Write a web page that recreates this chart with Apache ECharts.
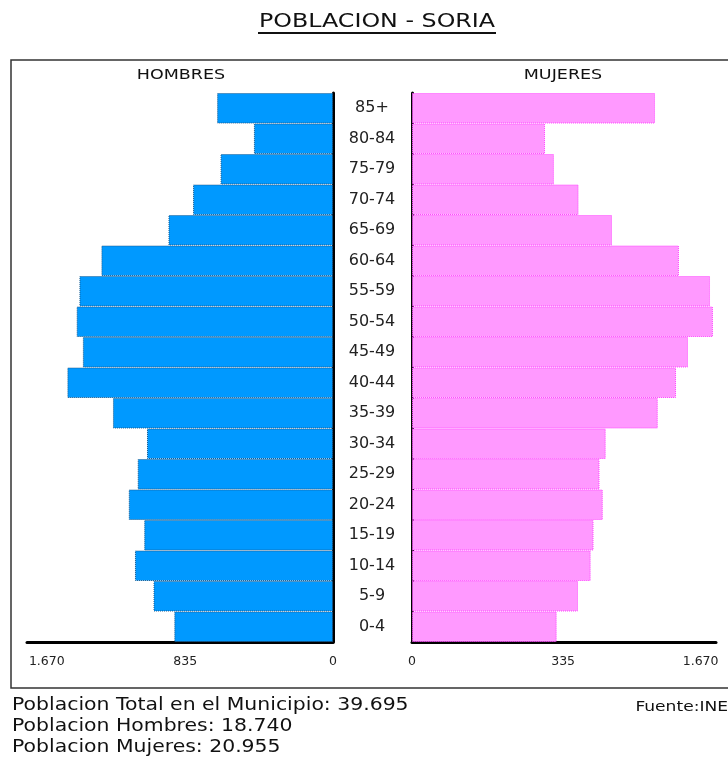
<!DOCTYPE html>
<html>
<head>
<meta charset="utf-8">
<title>POBLACION - SORIA</title>
<script src="https://cdn.jsdelivr.net/npm/echarts@6/dist/echarts.min.js"></script>
<style>
  html, body { margin: 0; padding: 0; background: #fff; }
  #chart { width: 728px; height: 758px; }
</style>
</head>
<body>
<div id="chart"></div>
<script>
  // grupos de edad, de abajo hacia arriba
  const ageGroups = ["0-4", "5-9", "10-14", "15-19", "20-24", "25-29", "30-34", "35-39", "40-44",
                     "45-49", "50-54", "55-59", "60-64", "65-69", "70-74", "75-79", "80-84", "85+"];
  const hombres = [923, 1044, 1152, 1098, 1188, 1136, 1082, 1280, 1545,
                   1455, 1491, 1475, 1347, 957, 814, 654, 460, 674];
  const mujeres = [847, 972, 1046, 1063, 1117, 1098, 1134, 1439, 1546,
                   1616, 1762, 1745, 1563, 1171, 975, 831, 779, 1423];
  // marcas del eje (posicion y texto tal cual aparecen)
  const leftTickVals = [0, 860, 1665];
  const leftTickLabels = ["0", "835", "1.670"];
  const rightTickVals = [0, 885, 1690];
  const rightTickLabels = ["0", "335", "1.670"];
  const axisMax = 1780;
  const footLines = ["Poblacion Total en el Municipio: 39.695", "Poblacion Hombres: 18.740", "Poblacion Mujeres: 20.955"];

  const font = "Verdana, 'DejaVu Sans', sans-serif";
  const myChart = echarts.init(document.getElementById("chart"));

  const xAxisBase = (vals, labels, inverse) => ({
    type: "value",
    min: 0,
    max: axisMax,
    inverse: inverse,
    axisLine: { show: true, onZero: false, lineStyle: { color: "#000", width: 3 } },
    axisTick: { show: false },
    splitLine: { show: false },
    axisLabel: {
      customValues: vals,
      formatter: (v) => labels[vals.indexOf(v)],
      margin: 13,
      fontFamily: font,
      fontSize: 12.5,
      color: "#222",
      hideOverlap: false,
      showMinLabel: true,
      showMaxLabel: true
    }
  });

  const yAxisBase = (pos, showLabel) => ({
    type: "category",
    data: ageGroups,
    position: pos,
    axisLine: { show: true, lineStyle: { color: "#000", width: 3 } },
    axisTick: { show: false },
    splitLine: { show: false },
    axisLabel: {
      show: showLabel,
      align: "center",
      margin: 39,
      fontFamily: font,
      fontSize: 16,
      color: "#222",
      padding: [5, 0, 0, 0]
    }
  });

  // el texto del original sale ensanchado, de ahi el scaleX
  const txt = (x, y, text, size, align, sx) => ({
    type: "text", x: x, y: y, scaleX: sx,
    style: { text: text, font: size + "px " + font, fill: "#111", align: align, verticalAlign: "middle" }
  });

  const options = {
    animation: false,
    backgroundColor: "#fff",
    grid: [
      { left: 27, right: 395, top: 93, bottom: 116 },
      { left: 412, right: 12, top: 93, bottom: 116 }
    ],
    xAxis: [
      { ...xAxisBase(leftTickVals, leftTickLabels, true), gridIndex: 0 },
      { ...xAxisBase(rightTickVals, rightTickLabels, false), gridIndex: 1 }
    ],
    yAxis: [
      { ...yAxisBase("right", true), gridIndex: 0 },
      { ...yAxisBase("left", false), gridIndex: 1 }
    ],
    series: [
      {
        type: "bar",
        name: "HOMBRES",
        xAxisIndex: 0,
        yAxisIndex: 0,
        data: hombres,
        barCategoryGap: 0,
        itemStyle: { color: "#0099ff", borderColor: "#1c5a8c", borderWidth: 1, borderType: "dotted" }
      },
      {
        type: "bar",
        name: "MUJERES",
        xAxisIndex: 1,
        yAxisIndex: 1,
        data: mujeres,
        barCategoryGap: 0,
        itemStyle: { color: "#ff99ff", borderColor: "#ff44ff", borderWidth: 1, borderType: "dotted" }
      }
    ],
    graphic: [
      // marco
      { type: "rect", shape: { x: 11, y: 60, width: 730, height: 628 },
        style: { fill: "none", stroke: "#333", lineWidth: 1.5 }, z: 0 },
      txt(377, 22, "POBLACION - SORIA", 19, "center", 1.25),
      { type: "line", shape: { x1: 258, y1: 33, x2: 496, y2: 33 }, style: { stroke: "#111", lineWidth: 2 } },
      txt(181, 75, "HOMBRES", 14, "center", 1.25),
      txt(563, 75, "MUJERES", 14, "center", 1.25),
      ...footLines.map((t, i) => txt(12, 706 + i * 21, t, 17, "left", 1.2)),
      txt(728, 707, "Fuente:INE", 14, "right", 1.22)
    ]
  };

  myChart.setOption(options);
</script>
</body>
</html>
